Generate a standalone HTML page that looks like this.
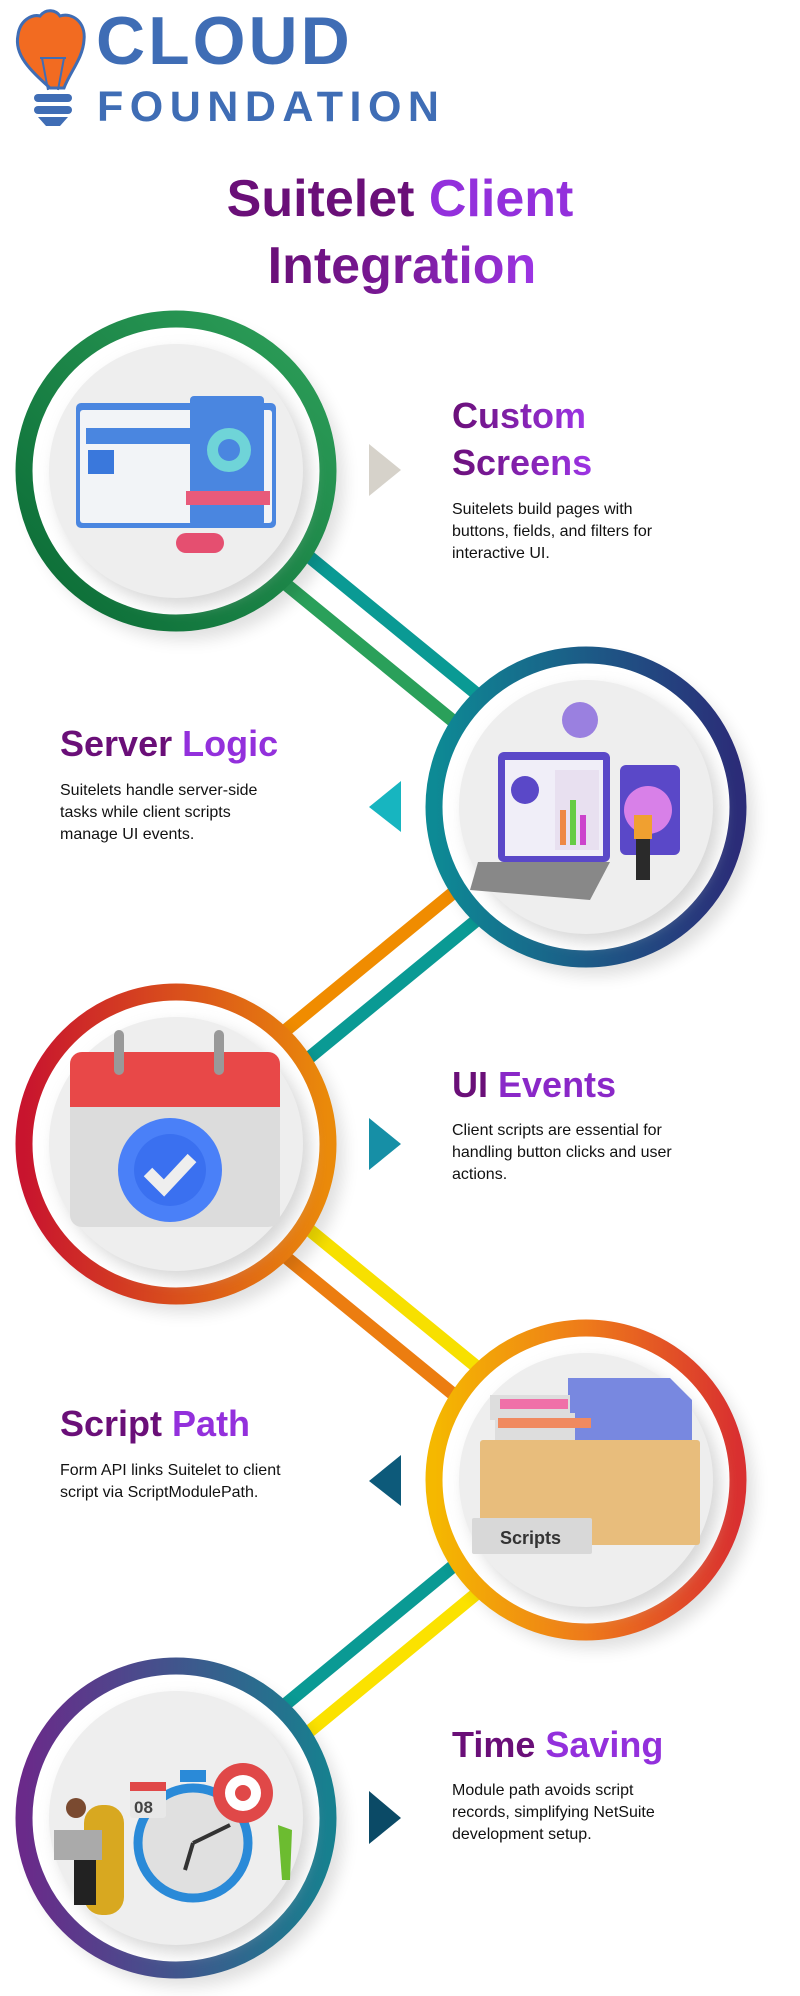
<!DOCTYPE html>
<html><head><meta charset="utf-8"><style>
html,body{margin:0;padding:0;background:#fff;}
svg{display:block;}
text{font-family:"Liberation Sans",sans-serif;}
</style></head><body>
<svg width="800" height="1996" viewBox="0 0 800 1996" xmlns="http://www.w3.org/2000/svg">
<defs>
<filter id="sh" x="-30%" y="-30%" width="160%" height="160%"><feGaussianBlur stdDeviation="8"/></filter>
<linearGradient id="r1" x1="0" y1="1" x2="1" y2="0"><stop offset="0" stop-color="#0a6a35"/><stop offset="1" stop-color="#2ea05a"/></linearGradient>
<linearGradient id="r2" x1="0" y1="0" x2="1" y2="0"><stop offset="0" stop-color="#0d8a95"/><stop offset="1" stop-color="#2b2c78"/></linearGradient>
<linearGradient id="r3" x1="0" y1="0" x2="1" y2="0"><stop offset="0" stop-color="#c8142e"/><stop offset="1" stop-color="#ea8a0a"/></linearGradient>
<linearGradient id="r4" x1="0" y1="0" x2="1" y2="0"><stop offset="0" stop-color="#f5b800"/><stop offset="0.5" stop-color="#ee7a1a"/><stop offset="1" stop-color="#d93030"/></linearGradient>
<linearGradient id="r5" x1="0" y1="0" x2="1" y2="0"><stop offset="0" stop-color="#6a2a8a"/><stop offset="1" stop-color="#17808f"/></linearGradient>
<linearGradient id="tt" x1="0" y1="0" x2="1" y2="0"><stop offset="0" stop-color="#6a0f78"/><stop offset="1" stop-color="#9d35e6"/></linearGradient>
<linearGradient id="tt2" x1="0" y1="0" x2="1" y2="0"><stop offset="0" stop-color="#6a0f78"/><stop offset="0.5" stop-color="#7a1a98"/><stop offset="1" stop-color="#9d35e6"/></linearGradient>
</defs>

<!-- Logo -->
<g>
<path d="M50 88 C30 70 14 55 18 35 C20 20 32 14 40 16 C46 8 56 10 60 16 C72 12 86 22 84 40 C83 58 70 72 64 88 Z" fill="#f26b21" stroke="#3f6db5" stroke-width="3"/>
<path d="M42 58 L48 90 M64 58 L58 90 M40 58 L66 58" stroke="#3f6db5" stroke-width="2" fill="none"/>
<rect x="34" y="94" width="38" height="8" rx="4" fill="#3f6db5"/>
<rect x="34" y="106" width="38" height="8" rx="4" fill="#3f6db5"/>
<path d="M38 117 L68 117 L60 126 L46 126 Z" fill="#3f6db5"/>
<text x="96" y="64" font-size="68" font-weight="bold" fill="#3f6db5" letter-spacing="3">CLOUD</text>
<text x="97" y="121" font-size="43" font-weight="bold" fill="#3f6db5" letter-spacing="6.5">FOUNDATION</text>
</g>

<!-- Title -->
<text x="400" y="216" font-size="52" font-weight="bold" text-anchor="middle"><tspan fill="#6a0f78">Suitelet </tspan><tspan fill="#9330dc">Client</tspan></text>
<text x="402" y="283" font-size="52" font-weight="bold" text-anchor="middle" fill="url(#tt2)">Integration</text>

<!-- Connectors -->
<g transform="translate(176,471) rotate(39.3)">
<line x1="0" y1="18" x2="530" y2="18" stroke="#2aa05a" stroke-width="13"/>
<line x1="0" y1="-18" x2="530" y2="-18" stroke="#0a9a94" stroke-width="13"/>
</g>
<g transform="translate(586,807) rotate(140.6)">
<line x1="0" y1="18" x2="530" y2="18" stroke="#f08c00" stroke-width="13"/>
<line x1="0" y1="-18" x2="530" y2="-18" stroke="#0a9a94" stroke-width="13"/>
</g>
<g transform="translate(176,1144) rotate(39.3)">
<line x1="0" y1="18" x2="530" y2="18" stroke="#ec7d10" stroke-width="13"/>
<line x1="0" y1="-18" x2="530" y2="-18" stroke="#f7e000" stroke-width="13"/>
</g>
<g transform="translate(586,1480) rotate(140.5)">
<line x1="0" y1="18" x2="530" y2="18" stroke="#0a9a94" stroke-width="13"/>
<line x1="0" y1="-18" x2="530" y2="-18" stroke="#fbe200" stroke-width="13"/>
</g>

<!-- Circles -->
<g id="c1">
<circle cx="186" cy="482" r="158" fill="#000" opacity="0.12" filter="url(#sh)"/>
<circle cx="176" cy="471" r="152" fill="#fff" stroke="url(#r1)" stroke-width="17"/>
<circle cx="183" cy="479" r="127" fill="#bbb" opacity="0.6" filter="url(#sh)"/>
<circle cx="176" cy="471" r="127" fill="#eeeeee"/>
<rect x="76" y="403" width="200" height="125" rx="5" fill="#4a86e0"/>
<rect x="80" y="410" width="192" height="113" rx="3" fill="#f2f4f7"/>
<rect x="86" y="428" width="120" height="16" fill="#4a86e0"/>
<rect x="190" y="396" width="74" height="130" rx="4" fill="#4a86e0"/>
<circle cx="229" cy="450" r="22" fill="#6fd4d8"/><circle cx="229" cy="450" r="11" fill="#4a86e0"/>
<rect x="186" y="491" width="84" height="14" fill="#e85a7a"/>
<rect x="176" y="533" width="48" height="20" rx="10" fill="#e54f70"/>
<rect x="88" y="450" width="26" height="24" fill="#3a78dc"/>
</g>

<g id="c2">
<circle cx="596" cy="818" r="158" fill="#000" opacity="0.12" filter="url(#sh)"/>
<circle cx="586" cy="807" r="152" fill="#fff" stroke="url(#r2)" stroke-width="17"/>
<circle cx="593" cy="815" r="127" fill="#bbb" opacity="0.6" filter="url(#sh)"/>
<circle cx="586" cy="807" r="127" fill="#eeeeee"/>
<rect x="498" y="752" width="112" height="110" rx="6" fill="#5a48c8"/>
<rect x="505" y="760" width="98" height="96" fill="#f0eef8"/>
<rect x="555" y="770" width="44" height="80" fill="#e8e0f0"/>
<rect x="560" y="810" width="6" height="35" fill="#e84"/><rect x="570" y="800" width="6" height="45" fill="#6c4"/><rect x="580" y="815" width="6" height="30" fill="#c4c"/>
<circle cx="525" cy="790" r="14" fill="#5a48c8"/>
<path d="M478 862 L610 862 L590 900 L470 890 Z" fill="#888"/>
<rect x="620" y="765" width="60" height="90" rx="6" fill="#5a48c8"/>
<circle cx="648" cy="810" r="24" fill="#d880e8"/>
<circle cx="580" cy="720" r="18" fill="#9a80e0"/>
<rect x="636" y="830" width="14" height="50" fill="#2a2a2a"/><rect x="634" y="815" width="18" height="24" fill="#f0a030"/>
</g>

<g id="c3">
<circle cx="186" cy="1155" r="158" fill="#000" opacity="0.12" filter="url(#sh)"/>
<circle cx="176" cy="1144" r="152" fill="#fff" stroke="url(#r3)" stroke-width="17"/>
<circle cx="183" cy="1152" r="127" fill="#bbb" opacity="0.6" filter="url(#sh)"/>
<circle cx="176" cy="1144" r="127" fill="#eeeeee"/>
<rect x="70" y="1052" width="210" height="175" rx="12" fill="#dcdcdc"/>
<rect x="70" y="1052" width="210" height="55" rx="12" fill="#e84848"/>
<rect x="70" y="1090" width="210" height="17" fill="#e84848"/>
<rect x="114" y="1030" width="10" height="45" rx="5" fill="#999"/><rect x="214" y="1030" width="10" height="45" rx="5" fill="#999"/>
<circle cx="170" cy="1170" r="52" fill="#4a80f8"/>
<circle cx="170" cy="1170" r="36" fill="#3a70f0"/>
<path d="M148 1172 L164 1188 L192 1158" stroke="#eee" stroke-width="12" fill="none"/>
</g>

<g id="c4">
<circle cx="596" cy="1491" r="158" fill="#000" opacity="0.12" filter="url(#sh)"/>
<circle cx="586" cy="1480" r="152" fill="#fff" stroke="url(#r4)" stroke-width="17"/>
<circle cx="593" cy="1488" r="127" fill="#bbb" opacity="0.6" filter="url(#sh)"/>
<circle cx="586" cy="1480" r="127" fill="#eeeeee"/>
<path d="M568 1378 L670 1378 L692 1400 L692 1440 L568 1440 Z" fill="#7888e0"/>
<rect x="490" y="1395" width="80" height="25" fill="#ddd"/><rect x="500" y="1399" width="68" height="10" fill="#f070a8"/>
<rect x="495" y="1413" width="80" height="30" fill="#ddd"/><rect x="498" y="1418" width="93" height="10" fill="#f08a60"/>
<rect x="480" y="1440" width="220" height="105" rx="3" fill="#e8bd7c"/>
<rect x="472" y="1518" width="120" height="36" rx="2" fill="#d8d8d8"/>
<text x="500" y="1544" font-size="18" font-weight="bold" fill="#333">Scripts</text>
</g>

<g id="c5">
<circle cx="186" cy="1829" r="158" fill="#000" opacity="0.12" filter="url(#sh)"/>
<circle cx="176" cy="1818" r="152" fill="#fff" stroke="url(#r5)" stroke-width="17"/>
<circle cx="183" cy="1826" r="127" fill="#bbb" opacity="0.6" filter="url(#sh)"/>
<circle cx="176" cy="1818" r="127" fill="#eeeeee"/>
<circle cx="193" cy="1843" r="55" fill="#e0e0e0" stroke="#2a8ad8" stroke-width="9"/>
<path d="M193 1843 L230 1825 M193 1843 L185 1870" stroke="#333" stroke-width="4"/>
<rect x="180" y="1770" width="26" height="12" fill="#2a8ad8"/>
<circle cx="243" cy="1793" r="30" fill="#e04848"/><circle cx="243" cy="1793" r="18" fill="#fff"/><circle cx="243" cy="1793" r="8" fill="#e04848"/>
<rect x="130" y="1782" width="36" height="36" rx="3" fill="#e8e8e8"/><rect x="130" y="1782" width="36" height="9" fill="#e04848"/>
<text x="134" y="1813" font-size="17" font-weight="bold" fill="#444">08</text>
<rect x="84" y="1805" width="40" height="110" rx="18" fill="#d8a820"/>
<rect x="54" y="1830" width="48" height="30" fill="#aaa"/>
<circle cx="76" cy="1808" r="10" fill="#7a4a30"/>
<rect x="74" y="1860" width="22" height="45" fill="#222"/>
<path d="M278 1825 L282 1880 L290 1880 L292 1830 Z" fill="#6cbc30"/>
</g>

<!-- Arrows -->
<polygon points="369,444 401,470 369,496" fill="#d6d2ca"/>
<polygon points="401,781 369,807 401,832" fill="#17b5c0"/>
<polygon points="369,1118 401,1144 369,1170" fill="#168fa6"/>
<polygon points="401,1455 369,1481 401,1506" fill="#0d5a7a"/>
<polygon points="369,1791 401,1818 369,1844" fill="#0b4a66"/>

<!-- Texts -->
<text x="452" y="428" font-size="36" font-weight="bold" fill="url(#tt)">Custom</text>
<text x="452" y="475" font-size="36" font-weight="bold" fill="url(#tt)">Screens</text>
<text x="452" y="514" font-size="16" fill="#111"><tspan x="452">Suitelets build pages with</tspan><tspan x="452" dy="22">buttons, fields, and filters for</tspan><tspan x="452" dy="22">interactive UI.</tspan></text>

<text x="60" y="756" font-size="36" font-weight="bold"><tspan fill="#6a0f78">Server </tspan><tspan fill="#9330dc">Logic</tspan></text>
<text x="60" y="795" font-size="16" fill="#111"><tspan x="60">Suitelets handle server-side</tspan><tspan x="60" dy="22">tasks while client scripts</tspan><tspan x="60" dy="22">manage UI events.</tspan></text>

<text x="452" y="1097" font-size="36" font-weight="bold"><tspan fill="#6a0f78">UI </tspan><tspan fill="#8a28c8">Events</tspan></text>
<text x="452" y="1135" font-size="16" fill="#111"><tspan x="452">Client scripts are essential for</tspan><tspan x="452" dy="22">handling button clicks and user</tspan><tspan x="452" dy="22">actions.</tspan></text>

<text x="60" y="1436" font-size="36" font-weight="bold"><tspan fill="#6a0f78">Script </tspan><tspan fill="#9330dc">Path</tspan></text>
<text x="60" y="1475" font-size="16" fill="#111"><tspan x="60">Form API links Suitelet to client</tspan><tspan x="60" dy="22">script via ScriptModulePath.</tspan></text>

<text x="452" y="1757" font-size="36" font-weight="bold"><tspan fill="#6a0f78">Time </tspan><tspan fill="#9330dc">Saving</tspan></text>
<text x="452" y="1795" font-size="16" fill="#111"><tspan x="452">Module path avoids script</tspan><tspan x="452" dy="22">records, simplifying NetSuite</tspan><tspan x="452" dy="22">development setup.</tspan></text>
</svg>
</body></html>
